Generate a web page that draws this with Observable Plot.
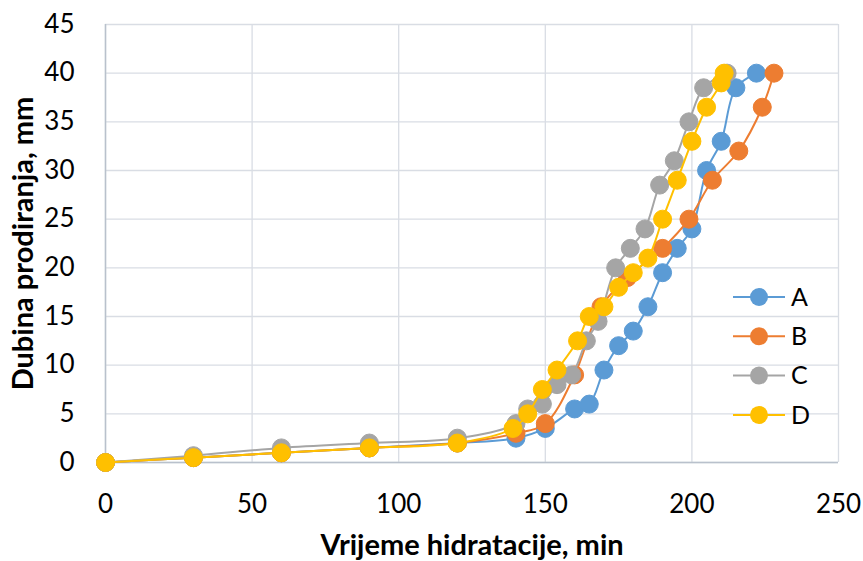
<!DOCTYPE html>
<html>
<head>
<meta charset="utf-8">
<script src="https://cdn.jsdelivr.net/npm/d3@7"></script>
<script src="https://cdn.jsdelivr.net/npm/@observablehq/plot@0.6"></script>
<style>
  html, body { margin: 0; padding: 0; background: #fff; }
  #wrap { position: relative; width: 863px; height: 561px; font-family: Lato, "Open Sans", sans-serif; }
  #legend { position: absolute; left: 728px; top: 277px; }
  [aria-label="x-axis label"] text, [aria-label="y-axis label"] text { font-weight: bold; font-size: 29px; }
</style>
</head>
<body>
<div id="wrap"><div id="chart"></div><div id="legend"></div></div>
<script>
const seriesNames = ["A", "B", "C", "D"];
const seriesColors = ["#5B9BD5", "#ED7D31", "#A5A5A5", "#FFC000"];

const aX = [0, 30, 60, 90, 120, 140, 150, 160, 165, 170, 175, 180, 185, 190, 195, 200, 205, 210, 215, 222];
const aY = [0, 0.5, 1, 1.5, 2, 2.5, 3.5, 5.5, 6, 9.5, 12, 13.5, 16, 19.5, 22, 24, 30, 33, 38.5, 40];

const bX = [0, 30, 60, 90, 120, 140, 150, 160, 169, 178, 190, 199, 207, 216, 224, 228];
const bY = [0, 0.5, 1, 1.5, 2, 3, 4, 9, 16, 19, 22, 25, 29, 32, 36.5, 40];

const cX = [0, 30, 60, 90, 120, 140, 144, 149, 154, 159, 164, 168, 174, 179, 184, 189, 194, 199, 204, 212];
const cY = [0, 0.7, 1.5, 2, 2.5, 4, 5.5, 6, 8, 9, 12.5, 14.5, 20, 22, 24, 28.5, 31, 35, 38.5, 40];

const dX = [0, 30, 60, 90, 120, 139, 144, 149, 154, 161, 165, 170, 175, 180, 185, 190, 195, 200, 205, 210, 211];
const dY = [0, 0.5, 1, 1.5, 2, 3.5, 5, 7.5, 9.5, 12.5, 15, 16, 18, 19.5, 21, 25, 29, 33, 36.5, 39, 40];

const xTicks = [0, 50, 100, 150, 200, 250];
const yTicks = [0, 5, 10, 15, 20, 25, 30, 35, 40, 45];

const seriesX = [aX, bX, cX, dX];
const seriesY = [aY, bY, cY, dY];
const data = seriesNames.map((name, i) => seriesX[i].map((x, j) => ({series: name, x, y: seriesY[i][j]})));

const marks = [
  Plot.gridX(xTicks, {stroke: "#d9dde4", strokeOpacity: 1, strokeWidth: 1.3}),
  Plot.gridY(yTicks, {stroke: "#d9dde4", strokeOpacity: 1, strokeWidth: 1.3}),
  Plot.ruleX([0], {stroke: "#b9c1cc", strokeWidth: 1.5}),
  Plot.ruleY([0], {stroke: "#b9c1cc", strokeWidth: 1.5}),
  Plot.axisX({ticks: xTicks, tickSize: 0, tickPadding: 32, fontSize: 26, label: "Vrijeme hidratacije, min", labelAnchor: "center", labelArrow: "none", labelOffset: 92}),
  Plot.axisY({ticks: yTicks, tickSize: 0, tickPadding: 31, fontSize: 26, label: "Dubina prodiranja, mm", labelAnchor: "center", labelArrow: "none", labelOffset: 93})
];
data.forEach((d, i) => {
  marks.push(Plot.line(d, {x: "x", y: "y", stroke: seriesColors[i], strokeWidth: 2, curve: "catmull-rom"}));
  marks.push(Plot.dot(d, {x: "x", y: "y", r: 9, fill: seriesColors[i], stroke: seriesColors[i], strokeWidth: 1}));
});

const chart = Plot.plot({
  width: 863, height: 561,
  marginLeft: 105, marginRight: 25, marginTop: 24, marginBottom: 99,
  style: {fontFamily: "Lato, 'Open Sans', sans-serif", color: "#000", background: "#fff"},
  x: {domain: [0, 250]},
  y: {domain: [0, 45]},
  marks
});
document.getElementById("chart").appendChild(chart);

// legend
const lg = d3.select("#legend").append("svg").attr("width", 90).attr("height", 165)
  .style("font-family", "Lato, 'Open Sans', sans-serif");
seriesNames.forEach((name, i) => {
  const g = lg.append("g").attr("transform", `translate(0, ${20 + i * 39.3})`);
  g.append("line").attr("x1", 5).attr("x2", 57).attr("y1", 0).attr("y2", 0).attr("stroke", seriesColors[i]).attr("stroke-width", 2);
  g.append("circle").attr("cx", 31).attr("cy", 0).attr("r", 9).attr("fill", seriesColors[i]);
  g.append("text").attr("x", 63).attr("y", 0).attr("dy", "0.35em").attr("font-size", 25).text(name);
});
</script>
</body>
</html>
